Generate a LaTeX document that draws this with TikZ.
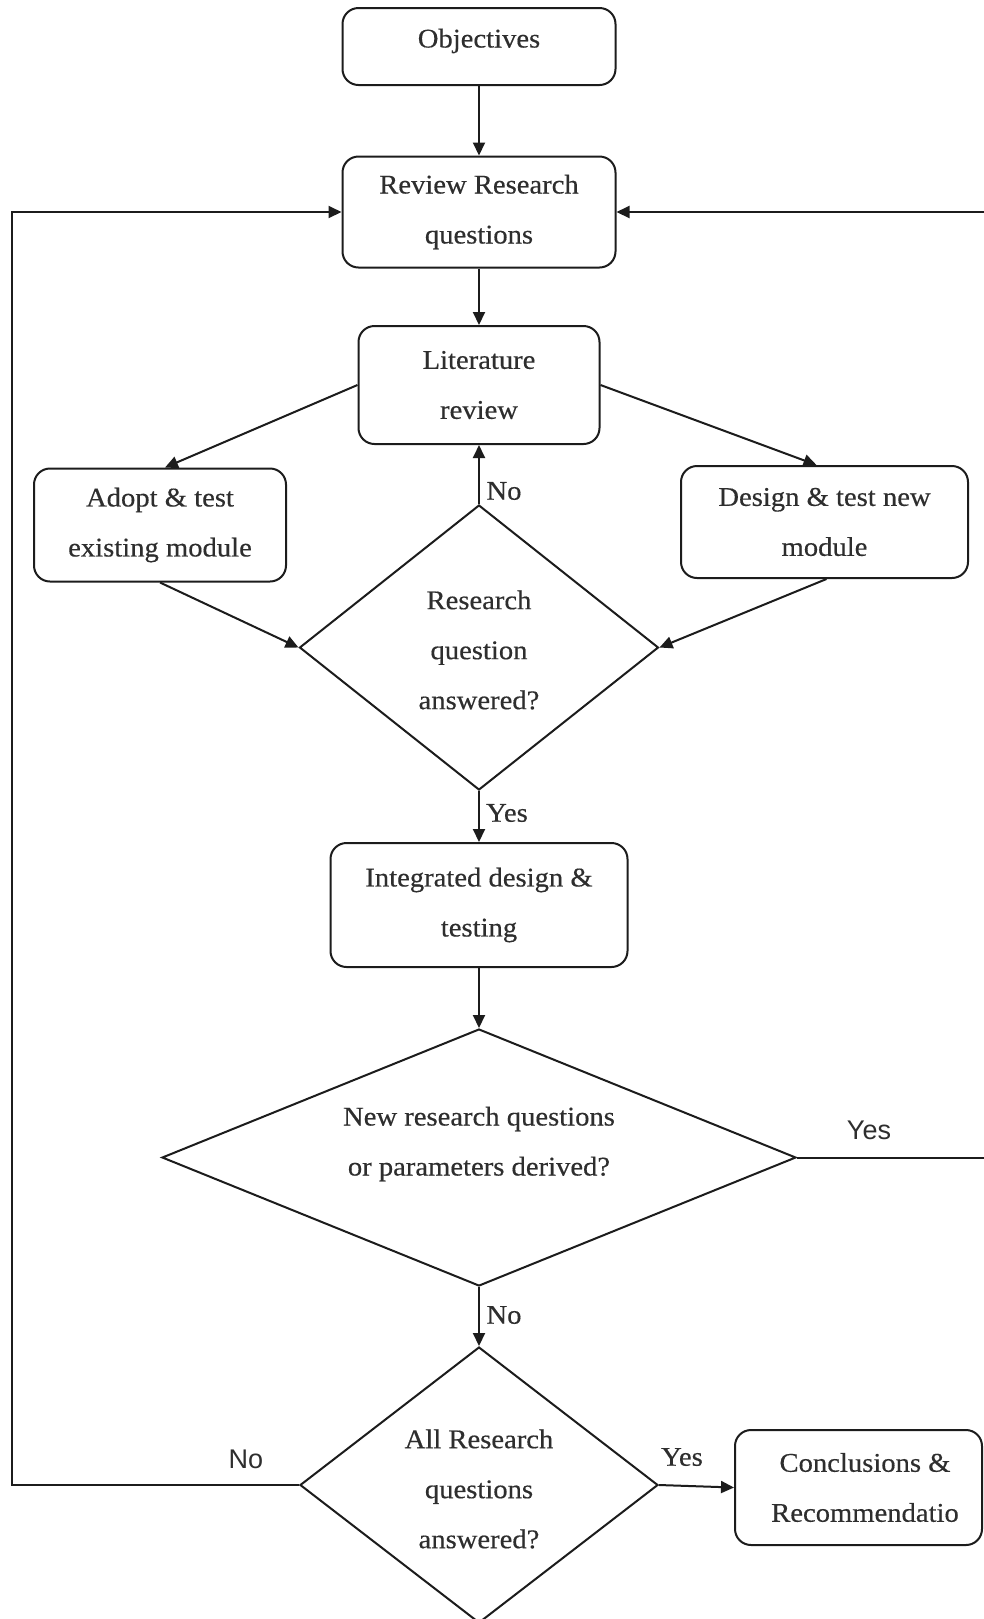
\documentclass[tikz,border=0pt]{standalone}
\usepackage{fontspec}
\setmainfont[FakeStretch=1.06,FakeBold=0.4]{Liberation Serif}
\newfontfamily\labelsans{Liberation Sans}
\usetikzlibrary{shapes.geometric,arrows.meta}
\definecolor{ink}{HTML}{2E2E2E}
\definecolor{lineink}{HTML}{1C1C1C}
\begin{document}
\begin{tikzpicture}[x=0.5pt,y=-0.5pt,
  boxtext/.style={text=ink,align=center,inner sep=0pt,font=\fontsize{13.5}{25}\selectfont},
  box/.style={boxtext,draw=lineink,line width=1pt,rounded corners=8pt},
  decision/.style={boxtext,draw=lineink,line width=1pt,diamond},
  flow/.style={draw=lineink,line width=1pt,-{Triangle[length=6.5pt,width=6pt]}},
  serifnote/.style={text=ink,inner sep=0pt,font=\fontsize{13.5}{15}\selectfont},
  sansnote/.style={text=ink,inner sep=0pt,font=\labelsans\fontsize{13.5}{15}\selectfont}]

\fill[white] (0,0) rectangle (984,1619);
\useasboundingbox (0,0) rectangle (984,1619);
\clip (0,0) rectangle (984,1619);

% process boxes
\node[box,minimum width=136.5pt,minimum height=38.5pt] (obj) at (479,46.5) {};
\node[boxtext] (objtext) at (479,41) {Objectives};
\node[box,minimum width=136.5pt,minimum height=55.5pt] (rev) at (479,212) {Review Research\\questions};
\node[box,minimum width=120.5pt,minimum height=59pt] (lit) at (479,385) {Literature\\review};
\node[box,minimum width=126pt,minimum height=56.5pt] (adopt) at (160,525) {Adopt \& test\\existing module};
\node[box,minimum width=143.5pt,minimum height=56pt] (design) at (824.5,522) {Design \& test new\\module};
\node[box,minimum width=148.5pt,minimum height=62pt] (integ) at (479,905) {Integrated design \&\\testing};
\node[box,minimum width=123.5pt,minimum height=57.5pt] (conc) at (858.5,1487.5) {};
\node[boxtext] (conctext) at (865,1487.5) {Conclusions \&\\Recommendatio};

% decisions
\node[decision,aspect=1.26,minimum width=179.5pt,minimum height=142.5pt] (d1) at (479,647.5) {};
\node[boxtext] (d1text) at (479,650) {Research\\question\\answered?};
\node[decision,aspect=2.47,minimum width=317pt,minimum height=128.5pt] (d2) at (479,1157.5) {};
\node[boxtext] (d2text) at (479,1144) {New research questions\\or parameters derived?};
\node[decision,aspect=1.3,minimum width=179pt,minimum height=138pt] (d3) at (479,1485) {};
\node[boxtext] (d3text) at (479,1489) {All Research\\questions\\answered?};

% return rails
\coordinate (leftrail) at (12,0);
\coordinate (rightrail) at (994,0);

% connectors
\draw[flow] (obj.south) -- (rev.north);
\draw[flow] (rev.south) -- (lit.north);
\draw[flow] (lit.west) -- ([xshift=2.5pt]adopt.north);
\draw[flow] (lit.east) -- ([xshift=-4pt]design.north);
\draw[flow] (adopt.south) -- (d1.west);
\draw[flow] ([xshift=1pt]design.south) -- (d1.east);
\draw[flow] (d1.north) -- (lit.south);
\draw[flow] (d1.south) -- (integ.north);
\draw[flow] (integ.south) -- (d2.north);
\draw[flow] (d2.east) -- (d2.east -| rightrail) |- (rev.east);
\draw[flow] (d2.south) -- (d3.north);
\draw[flow] (d3.west) -- (d3.west -| leftrail) |- (rev.west);
\draw[flow] (d3.east) -- (conc.west);

% branch labels
\node[serifnote] (no1) at (504,491) {No};
\node[serifnote] (yes1) at (507,813) {Yes};
\node[sansnote] (yes2) at (869,1130) {Yes};
\node[serifnote] (no2) at (504,1315) {No};
\node[sansnote] (no3) at (246,1459) {No};
\node[serifnote] (yes3) at (682,1457) {Yes};
\end{tikzpicture}
\end{document}
